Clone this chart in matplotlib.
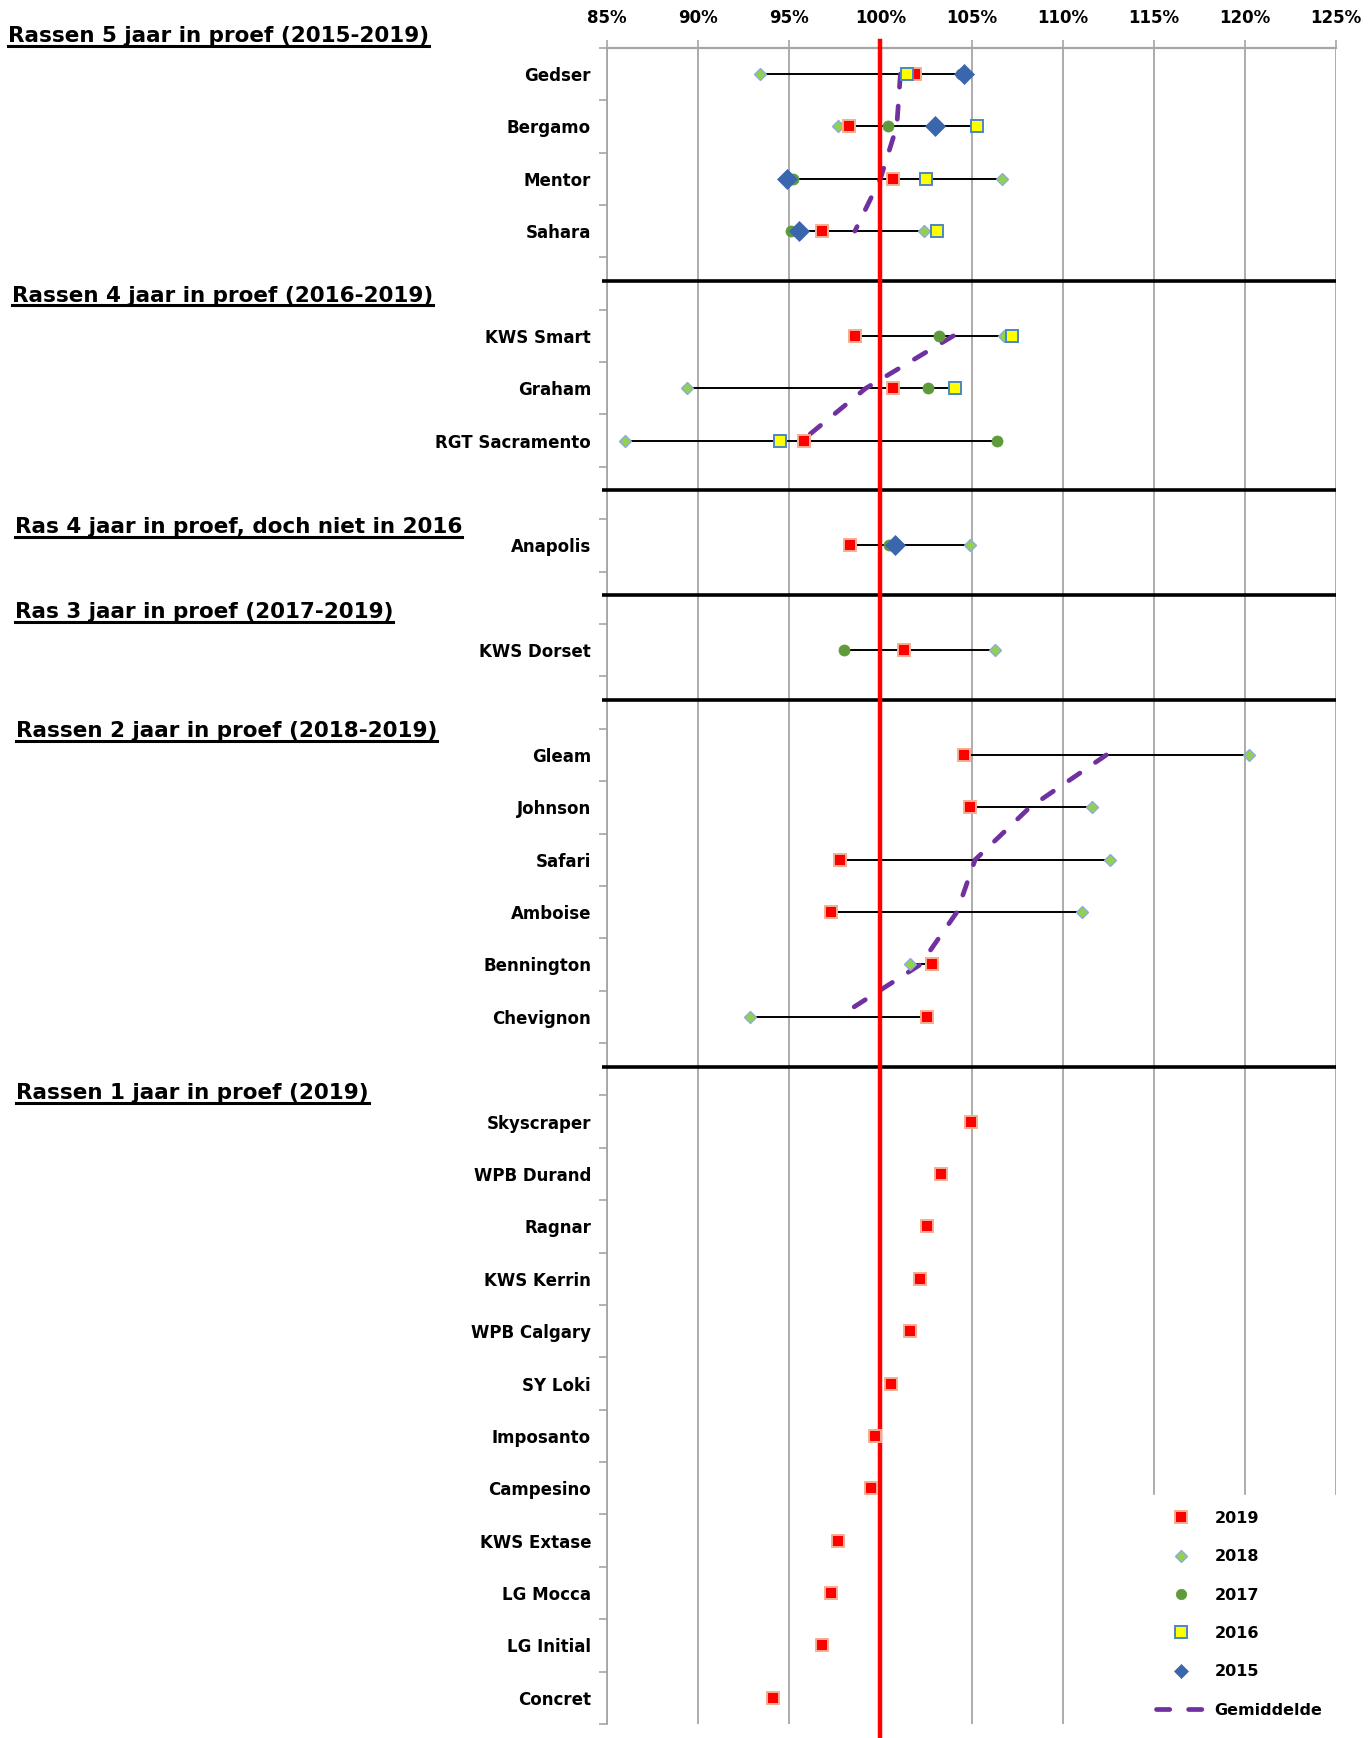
import numpy as np
import matplotlib
matplotlib.use("Agg")
import matplotlib.pyplot as plt
from matplotlib.lines import Line2D

nan = np.nan

# ---------------- data ----------------
varieties = ["Gedser", "Bergamo", "Mentor", "Sahara", "",
             "KWS Smart", "Graham", "RGT Sacramento", "",
             "Anapolis", "",
             "KWS Dorset", "",
             "Gleam", "Johnson", "Safari", "Amboise", "Bennington", "Chevignon", "",
             "Skyscraper", "WPB Durand", "Ragnar", "KWS Kerrin", "WPB Calgary", "SY Loki",
             "Imposanto", "Campesino", "KWS Extase", "LG Mocca", "LG Initial", "Concret"]

y2019 = [101.9, 98.3, 100.7, 96.8, nan,
         98.6, 100.7, 95.8, nan,
         98.35, nan,
         101.3, nan,
         104.6, 104.9, 97.8, 97.3, 102.85, 102.55, nan,
         104.95, 103.3, 102.55, 102.2, 101.6, 100.6,
         99.7, 99.5, 97.7, 97.3, 96.8, 94.1]

y2018 = [93.4, 97.7, 106.7, 102.4, nan,
         106.8, 89.4, 86.0, nan,
         104.9, nan,
         106.3, nan,
         120.2, 111.6, 112.6, 111.05, 101.6, 92.85, nan,
         nan, nan, nan, nan, nan, nan,
         nan, nan, nan, nan, nan, nan]

y2017 = [104.4, 100.4, 95.2, 95.1, nan,
         103.2, 102.6, 106.4, nan,
         100.5, nan,
         98.0, nan,
         nan, nan, nan, nan, nan, nan, nan,
         nan, nan, nan, nan, nan, nan,
         nan, nan, nan, nan, nan, nan]

y2016 = [101.45, 105.3, 102.5, 103.1, nan,
         107.2, 104.1, 94.5, nan,
         nan, nan,
         nan, nan,
         nan, nan, nan, nan, nan, nan, nan,
         nan, nan, nan, nan, nan, nan,
         nan, nan, nan, nan, nan, nan]

y2015 = [104.6, 103.0, 94.9, 95.55, nan,
         nan, nan, nan, nan,
         100.8, nan,
         nan, nan,
         nan, nan, nan, nan, nan, nan, nan,
         nan, nan, nan, nan, nan, nan,
         nan, nan, nan, nan, nan, nan]

gemiddelde = [101.1, 100.9, 100.0, 98.6, nan,
              104.0, 99.2, 95.7, nan,
              nan, nan,
              nan, nan,
              112.4, 108.2, 105.2, 104.2, 102.2, 97.7, nan,
              nan, nan, nan, nan, nan, nan,
              nan, nan, nan, nan, nan, nan]

x_ticks = [85, 90, 95, 100, 105, 110, 115, 120, 125]
x_tick_labels = ["85%", "90%", "95%", "100%", "105%", "110%", "115%", "120%", "125%"]

group_titles = ["Rassen 5 jaar in proef (2015-2019)",
                "Rassen 4 jaar in proef (2016-2019)",
                "Ras 4 jaar in proef, doch niet in 2016",
                "Ras 3 jaar in proef (2017-2019)",
                "Rassen 2 jaar in proef (2018-2019)",
                "Rassen 1 jaar in proef (2019)"]

legend_labels = ["2019", "2018", "2017", "2016", "2015", "Gemiddelde"]

# ---------------- styling ----------------
W, H = 1370, 1738
plt.rcParams['font.family'] = ['DejaVu Sans']
FS = 12
GRID = '#A6A6A6'
PURPLE = '#7030A0'
DASH = (0, (2.8, 4.0))

styles = {
    "2019": dict(marker='s', ms=8, mfc='#FF0000', mec='#F7AE92', mew=1.4, zorder=7),
    "2018": dict(marker='D', ms=6.3, mfc='#92D050', mec='#8EAADB', mew=1.0, zorder=5),
    "2017": dict(marker='o', ms=8, mfc='#5F9B3D', mec='#5F9B3D', mew=0.5, zorder=6),
    "2016": dict(marker='s', ms=9, mfc='#FFFF00', mec='#4A86C8', mew=1.4, zorder=8),
    "2015": dict(marker='D', ms=10, mfc='#3A66AE', mec='#3A66AE', mew=0.5, zorder=9),
}
legend_ms = {"2019": 8, "2018": 6.5, "2017": 7.5, "2016": 8, "2015": 7}
series = {"2019": y2019, "2018": y2018, "2017": y2017, "2016": y2016, "2015": y2015}

fig = plt.figure(figsize=(W / 100, H / 100), dpi=100)
top_px, bot_px, left_px, right_px = 47.8, 1724, 607, 1336
ax = fig.add_axes([left_px / W, 1 - bot_px / H, (right_px - left_px) / W, (bot_px - top_px) / H])

n = len(varieties)
ypos = np.arange(n)
ax.set_xlim(85, 125)
ax.set_ylim(n - 0.5, -0.5)

# grid
ax.set_xticks(x_ticks)
ax.set_xticklabels(x_tick_labels, fontweight='bold', fontsize=FS)
ax.xaxis.tick_top()
ax.tick_params(axis='x', which='major', length=6, color=GRID, width=1.2, pad=9)
ax.grid(axis='x', color=GRID, lw=1.3, zorder=0.5)
ax.set_axisbelow(True)

ax.set_yticks(ypos)
ax.set_yticklabels(varieties, fontweight='bold', fontsize=FS)
ax.set_yticks(np.arange(-0.5, n, 1.0), minor=True)
ax.tick_params(axis='y', which='major', length=0, pad=11.5)
ax.tick_params(axis='y', which='minor', length=6, color=GRID, width=1.2)

for s in ['right', 'bottom']:
    ax.spines[s].set_visible(False)
ax.spines['left'].set_color(GRID)
ax.spines['left'].set_linewidth(1.3)
ax.spines['top'].set_color(GRID)
ax.spines['top'].set_linewidth(1.6)

# separators at blank rows
blank_rows = [i for i, v in enumerate(varieties) if v == ""]
ax.hlines([b - 0.05 for b in blank_rows], 84.73, 125, colors='black', lw=2.6,
          zorder=3, clip_on=False)

# connecting lines min -> max
allv = np.array([y2019, y2018, y2017, y2016, y2015], dtype=float)
cnt = np.sum(~np.isnan(allv), axis=0)
mask = cnt >= 2
lo = np.min(np.where(np.isnan(allv), np.inf, allv), axis=0)
hi = np.max(np.where(np.isnan(allv), -np.inf, allv), axis=0)
ax.hlines(ypos[mask], lo[mask], hi[mask], colors='black', lw=1.4, zorder=3)

# average line
ax.plot(gemiddelde, ypos, color=PURPLE, lw=3.4, ls=DASH,
        dash_capstyle='round', zorder=4)

# 100% line
ax.axvline(100, color='#FF0000', lw=3.2, ymin=-0.009, ymax=1.004, clip_on=False, zorder=4.5)

for yr in ["2018", "2017", "2019", "2016", "2015"]:
    st = styles[yr]
    ax.plot(series[yr], ypos, ls='none', marker=st['marker'], ms=st['ms'],
            mfc=st['mfc'], mec=st['mec'], mew=st['mew'], zorder=st['zorder'])

# legend
handles = []
for yr in ["2019", "2018", "2017", "2016", "2015"]:
    st = styles[yr]
    handles.append(Line2D([], [], ls='none', marker=st['marker'], ms=legend_ms[yr],
                          mfc=st['mfc'], mec=st['mec'], mew=st['mew']))
handles.append(Line2D([], [], color=PURPLE, lw=3.4, ls=DASH,
                      dash_capstyle='round'))
leg = ax.legend(handles, legend_labels, loc='upper left',
                bbox_to_anchor=(1140 / W, 1 - 1495 / H), bbox_transform=fig.transFigure,
                frameon=True, framealpha=1, edgecolor='white', facecolor='white',
                fancybox=False, borderpad=1.0, borderaxespad=0, handlelength=3.1,
                handletextpad=0.55, labelspacing=1.46,
                prop={'weight': 'bold', 'size': 11.5})
leg.set_zorder(20)

# group headers (underlined)
header_pos = [(8, 42), (12, 301.5), (15, 533), (15, 618), (16, 737), (16, 1099)]
fig.canvas.draw()
renderer = fig.canvas.get_renderer()
for title, (xp, bp) in zip(group_titles, header_pos):
    t = fig.text(xp / W, 1 - bp / H, title, fontsize=15.5, fontweight='bold',
                 va='baseline', ha='left')
    bb = t.get_window_extent(renderer=renderer)
    uy = 1 - (bp + 3.5) / H
    fig.add_artist(Line2D([bb.x0 / W, bb.x1 / W], [uy, uy], transform=fig.transFigure,
                          color='black', lw=2.2))

fig.savefig("out.png", dpi=100)
